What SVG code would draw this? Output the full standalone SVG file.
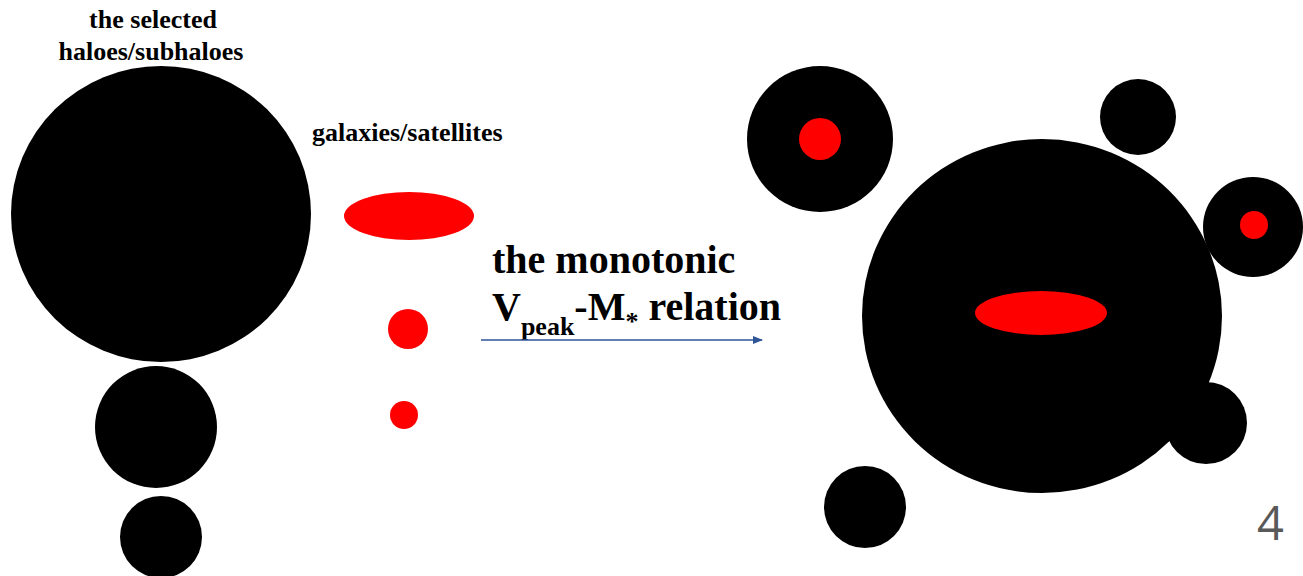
<svg xmlns="http://www.w3.org/2000/svg" width="1303" height="576" viewBox="0 0 1303 576">
<style>
.t{font-family:"Liberation Serif","Times New Roman",serif;font-weight:bold;fill:#000}
.h{fill:#000}
.g{fill:#ff0000}
</style>
<defs>
<marker id="ah" markerWidth="10" markerHeight="8" refX="9" refY="4" orient="auto" markerUnits="userSpaceOnUse">
<path d="M0,0 L10,4 L0,8 Z" fill="#2F5597"/>
</marker>
</defs>
<rect width="1303" height="576" fill="#fff"/>
<g id="label-halos"><text class="t" font-size="26" text-anchor="middle" x="153" y="28">the selected</text><text class="t" font-size="26" text-anchor="middle" x="151" y="60">haloes/subhaloes</text></g>
<g id="label-galaxies"><text class="t" font-size="26" x="312" y="141">galaxies/satellites</text></g>
<g id="halo1"><ellipse class="h" cx="161" cy="214" rx="150" ry="148"/></g>
<g id="halo2"><circle class="h" cx="156" cy="427" r="61"/></g>
<g id="halo3"><circle class="h" cx="161" cy="537" r="41"/></g>
<g id="gal1"><ellipse class="g" cx="409" cy="216" rx="65" ry="24"/></g>
<g id="gal2"><circle class="g" cx="408" cy="329" r="20"/></g>
<g id="gal3"><circle class="g" cx="404" cy="415" r="14"/></g>
<g id="label-relation"><text class="t" font-size="40" x="492" y="273">the monotonic</text><text class="t" font-size="40" x="492" y="320">V<tspan font-size="26" dy="15">peak</tspan><tspan dy="-15">-M</tspan><tspan font-size="26" dy="10">*</tspan><tspan dy="-10"> relation</tspan></text></g>
<g id="connectors"><line x1="481" y1="340" x2="762" y2="340" stroke="#2F5597" stroke-width="1.5" marker-end="url(#ah)"/></g>
<g id="r-halo-tl"><circle class="h" cx="820" cy="139" r="73"/><circle class="g" cx="820" cy="139" r="21"/></g>
<g id="r-halo-top"><circle class="h" cx="1138" cy="117" r="38"/></g>
<g id="r-halo-big"><ellipse class="h" cx="1042" cy="316" rx="180" ry="177"/><ellipse class="g" cx="1041" cy="313" rx="66" ry="22"/></g>
<g id="r-halo-right"><circle class="h" cx="1253" cy="227" r="50"/><circle class="g" cx="1254" cy="225" r="14"/></g>
<g id="r-halo-br"><circle class="h" cx="1206" cy="423" r="41"/></g>
<g id="r-halo-bl"><circle class="h" cx="865" cy="507" r="41"/></g>
<g id="page-number"><text x="1257" y="540" font-family="Open Sans, Liberation Sans, sans-serif" font-size="47" fill="#595959">4</text></g>
</svg>
